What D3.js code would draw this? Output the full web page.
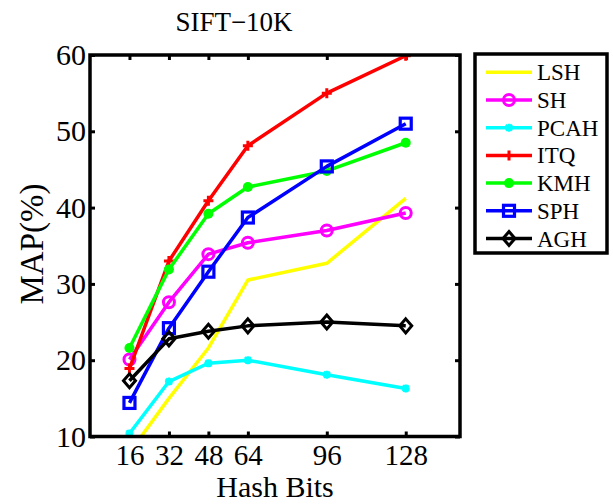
<!DOCTYPE html>
<html>
<head>
<meta charset="utf-8">
<script src="https://cdn.jsdelivr.net/npm/d3@7"></script>
<style>
  html, body { margin: 0; padding: 0; background: #fff; }
  svg { display: block; font-family: "Liberation Serif", "Times New Roman", serif; }
</style>
</head>
<body>
<svg id="chart" width="613" height="504"></svg>
<script>
// Hash code lengths on the x axis
const hashBits = [16, 32, 48, 64, 96, 128];

// MAP (%) per method
const lsh  = [7.9, 15.0, 21.6, 30.5, 32.7, 41.2];
const sh   = [20.1, 27.6, 33.9, 35.4, 37.0, 39.3];
const pcah = [10.4, 17.2, 19.6, 20.0, 18.1, 16.3];
const itq  = [18.9, 33.0, 40.9, 48.1, 55.0, 59.9];
const kmh  = [21.6, 31.9, 39.2, 42.7, 44.8, 48.5];
const sph  = [14.4, 24.2, 31.6, 38.7, 45.4, 51.0];
const agh  = [17.3, 22.8, 23.8, 24.5, 25.0, 24.5];

const methodNames = ["LSH", "SH", "PCAH", "ITQ", "KMH", "SPH", "AGH"];
const yTicks = [10, 20, 30, 40, 50, 60];

const series = [
  { name: methodNames[0], values: lsh,  color: "#ffff00", marker: "none" },
  { name: methodNames[1], values: sh,   color: "#ff00ff", marker: "circle" },
  { name: methodNames[2], values: pcah, color: "#00ffff", marker: "star" },
  { name: methodNames[3], values: itq,  color: "#ff0000", marker: "plus" },
  { name: methodNames[4], values: kmh,  color: "#00ff00", marker: "dot" },
  { name: methodNames[5], values: sph,  color: "#0000ff", marker: "square" },
  { name: methodNames[6], values: agh,  color: "#000000", marker: "diamond" }
];

const svg = d3.select("#chart");
const plotL = 90, plotR = 460, plotT = 55, plotB = 436.5;

const x = d3.scaleLinear().domain([0, 150]).range([plotL, plotR]);
const y = d3.scaleLinear().domain([10, 60]).range([plotB, plotT]);

svg.append("defs").append("clipPath").attr("id", "plotClip")
  .append("rect").attr("x", plotL).attr("y", plotT)
  .attr("width", plotR - plotL).attr("height", plotB - plotT);

// Inward ticks on all four sides
const gx = svg.append("g").attr("transform", `translate(0,${plotB})`)
  .call(d3.axisBottom(x).tickValues(hashBits).tickSizeInner(-5).tickSizeOuter(0).tickPadding(8));
const gxTop = svg.append("g").attr("transform", `translate(0,${plotT})`)
  .call(d3.axisTop(x).tickValues(hashBits).tickSizeInner(-5).tickSizeOuter(0).tickFormat(""));
const gy = svg.append("g").attr("transform", `translate(${plotL},0)`)
  .call(d3.axisLeft(y).tickValues(yTicks).tickSizeInner(-5).tickSizeOuter(0).tickPadding(4));
const gyRight = svg.append("g").attr("transform", `translate(${plotR},0)`)
  .call(d3.axisRight(y).tickValues(yTicks).tickSizeInner(-5).tickSizeOuter(0).tickFormat(""));

[gx, gxTop, gy, gyRight].forEach(g => {
  g.select(".domain").remove();
  g.selectAll(".tick line").attr("stroke", "#000").attr("stroke-width", 3);
  g.selectAll(".tick text").attr("fill", "#000")
    .style("font-family", "'Liberation Serif', serif");
});
gx.selectAll(".tick text").style("font-size", "29px").attr("dy", "0.71em");
gy.selectAll(".tick text").style("font-size", "30px");

// Series lines
const line = d3.line().x((d, i) => x(hashBits[i])).y(d => y(d));
const plot = svg.append("g").attr("clip-path", "url(#plotClip)");

function drawMarker(g, type, color, cx, cy) {
  const s = g.append("g").attr("transform", `translate(${cx},${cy})`);
  if (type === "circle") {
    s.append("circle").attr("r", 5.5).attr("fill", "none").attr("stroke", color).attr("stroke-width", 3);
  } else if (type === "dot") {
    s.append("circle").attr("r", 5).attr("fill", color);
  } else if (type === "square") {
    s.append("rect").attr("x", -5.5).attr("y", -5.5).attr("width", 11).attr("height", 11)
      .attr("fill", "none").attr("stroke", color).attr("stroke-width", 3.2);
  } else if (type === "diamond") {
    s.append("path").attr("d", "M0,-7L6,0L0,7L-6,0Z")
      .attr("fill", "none").attr("stroke", color).attr("stroke-width", 3);
  } else if (type === "plus") {
    s.append("path").attr("d", "M-5,0H5M0,-5V5")
      .attr("stroke", color).attr("stroke-width", 3);
  } else if (type === "star") {
    s.append("path").attr("d", "M-4,0H4M0,-4V4M-3,-3L3,3M-3,3L3,-3")
      .attr("stroke", color).attr("stroke-width", 2.5);
  }
}

series.forEach(sr => {
  plot.append("path").datum(sr.values)
    .attr("d", line).attr("fill", "none")
    .attr("stroke", sr.color).attr("stroke-width", 3.5)
    .attr("stroke-linejoin", "round");
  if (sr.marker !== "none") {
    sr.values.forEach((v, i) => drawMarker(plot, sr.marker, sr.color, x(hashBits[i]), y(v)));
  }
});

// Plot frame
svg.append("rect").attr("x", plotL).attr("y", plotT)
  .attr("width", plotR - plotL).attr("height", plotB - plotT)
  .attr("fill", "none").attr("stroke", "#000").attr("stroke-width", 3.5);

// Titles
svg.append("text").attr("x", 234).attr("y", 31).attr("text-anchor", "middle")
  .style("font-size", "27px").text("SIFT\u221210K");
svg.append("text").attr("x", 275).attr("y", 497).attr("text-anchor", "middle")
  .style("font-size", "30px").text("Hash Bits");
svg.append("text").attr("transform", "translate(43,244) rotate(-90)")
  .attr("text-anchor", "middle").style("font-size", "33px").text("MAP(%)");

// Legend
const lg = svg.append("g");
lg.append("rect").attr("x", 475).attr("y", 54).attr("width", 132).attr("height", 199)
  .attr("fill", "#fff").attr("stroke", "#000").attr("stroke-width", 3.5);
series.forEach((sr, i) => {
  const ly = 72.3 + i * 27.7;
  lg.append("line").attr("x1", 486).attr("x2", 532).attr("y1", ly).attr("y2", ly)
    .attr("stroke", sr.color).attr("stroke-width", 3.5);
  if (sr.marker !== "none") drawMarker(lg, sr.marker, sr.color, 509, ly);
  lg.append("text").attr("x", 537).attr("y", ly).attr("dy", "0.35em")
    .style("font-size", "23px").text(sr.name);
});
</script>
</body>
</html>
